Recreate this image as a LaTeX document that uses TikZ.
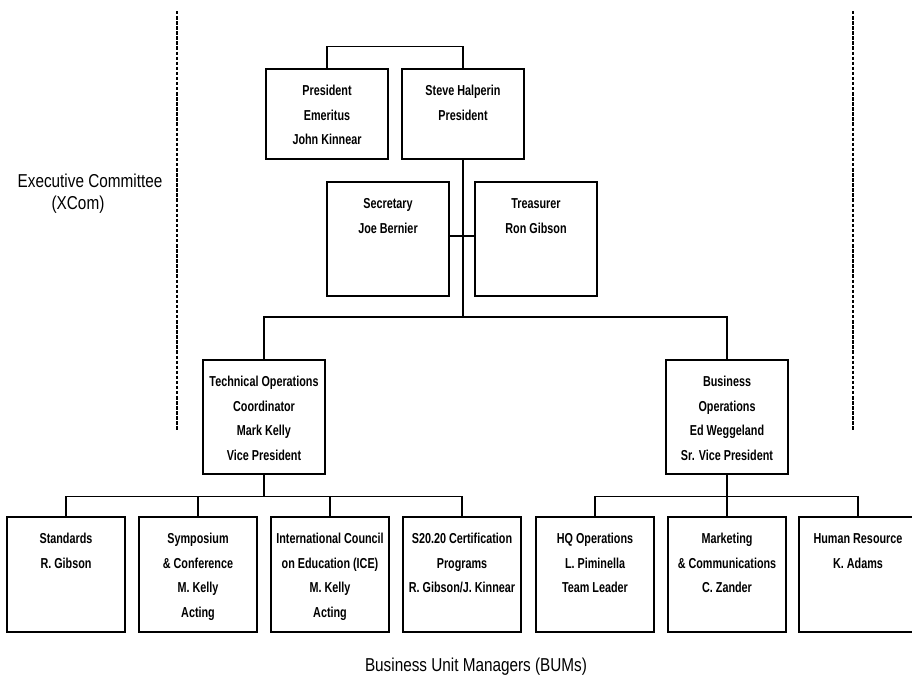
\documentclass[tikz,border=0pt]{standalone}
\usepackage{fontspec}
\setmainfont{Liberation Sans}[FakeStretch=0.82]
\newfontfamily\unitfont{Liberation Sans}[FakeStretch=0.75]
\usetikzlibrary{positioning,calc}

\tikzset{
	unit/.style={draw, line width=0.9pt, inner sep=0pt, font=\unitfont\bfseries\fontsize{10.8}{18.4}\selectfont},
	link/.style={line width=0.9pt},
	xline/.style={line width=2.1pt, dash pattern=on 2.6pt off 1.2pt},
	group/.style={font=\fontsize{14}{16.5}\selectfont, align=center}
}
% box of given width and height, text set from the top
\newcommand{\orgcell}[3]{\parbox[c][#2][t]{#1}{\centering\rule{0pt}{20pt}#3}}

\begin{document}
\begin{tikzpicture}[x=0.75pt, y=-0.75pt]
	\useasboundingbox (0,0) rectangle (912,683);
	% committee borders
	\draw[xline] (177,11) -- (177,430);
	\draw[xline] (853,11) -- (853,430);
	\node[group] (xcom) at (90,194) {Executive Committee\\(XCom)\hspace*{18pt}};
	\node[group] (bums) at (476,667) {Business Unit Managers (BUMs)};

	% officers
	\node[unit] (pe) at (327,114) {\orgcell{91.5pt}{67.5pt}{President\\Emeritus\\John Kinnear}};
	\node[unit] (pres) at (463,114) {\orgcell{91.5pt}{67.5pt}{Steve Halperin\\President}};
	\node[unit] (sec) at (388,239) {\orgcell{91.5pt}{85.5pt}{Secretary\\Joe Bernier}};
	\node[unit] (tre) at (536,239) {\orgcell{91.5pt}{85.5pt}{Treasurer\\Ron Gibson}};
	\node[unit] (tech) at (264,417) {\orgcell{91.5pt}{85.5pt}{Technical Operations\\Coordinator\\Mark Kelly\\Vice President}};
	\node[unit] (bus) at (727,417) {\orgcell{91.5pt}{85.5pt}{Business\\Operations\\Ed Weggeland\\Sr. Vice President}};

	% business units
	\node[unit] (std) at (66,574.5) {\orgcell{88.5pt}{86.25pt}{Standards\\R. Gibson}};
	\node[unit] (sym) at (198,574.5) {\orgcell{88.5pt}{86.25pt}{Symposium\\\&~Conference\\M. Kelly\\Acting}};
	\node[unit] (ice) at (330,574.5) {\orgcell{88.5pt}{86.25pt}{International Council\\on Education (ICE)\\M. Kelly\\Acting}};
	\node[unit] (cert) at (462,574.5) {\orgcell{88.5pt}{86.25pt}{S20.20 Certification\\Programs\\R. Gibson/J. Kinnear}};
	\node[unit] (hq) at (595,574.5) {\orgcell{88.5pt}{86.25pt}{HQ Operations\\L. Piminella\\Team Leader}};
	\node[unit] (mkt) at (727,574.5) {\orgcell{88.5pt}{86.25pt}{Marketing\\\&~Communications\\C. Zander}};
	\node[unit] (hr) at (858,574.5) {\orgcell{88.5pt}{86.25pt}{Human Resource\\K. Adams}};

	% connectors
	\coordinate (hub) at (pres.south |- 0,317);
	\draw[link] (pe.north) -- ++(0,-22) -| (pres.north);
	\draw[link] (pres.south) -- (hub);
	\draw[link] ([yshift=2.25pt]sec.east) -- ([yshift=2.25pt]tre.west);
	\draw[link] (tech.north) |- (hub) -| (bus.north);
	\foreach \n in {std,sym,ice,cert}
		\draw[link] (tech.south) -- ++(0,22) -| (\n.north);
	\foreach \n in {hq,mkt,hr}
		\draw[link] (bus.south) -- ++(0,22) -| (\n.north);
\end{tikzpicture}
\end{document}
